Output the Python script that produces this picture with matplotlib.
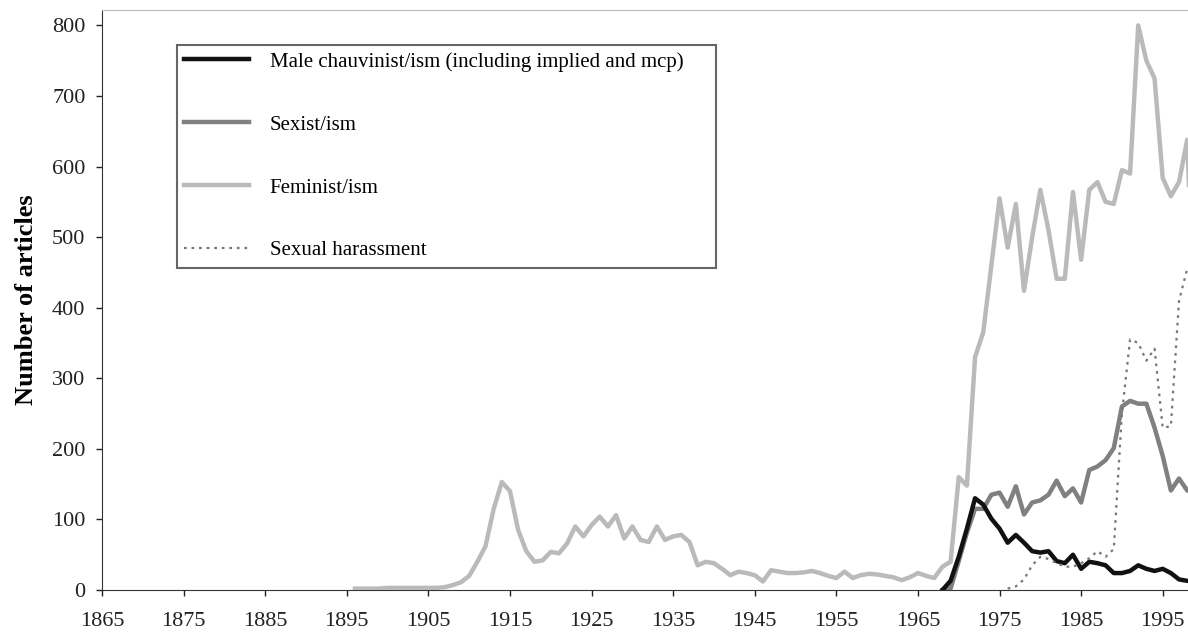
import matplotlib
matplotlib.use("Agg")
import matplotlib.pyplot as plt

plt.rcParams['font.family'] = ['Liberation Serif', 'DejaVu Serif']

# yearly article counts
fem_years = list(range(1896, 2000))
feminist = [2, 2, 2, 2, 3, 3, 3, 3, 3, 3,          # 1896-1905
            3, 4, 7, 11, 20, 40, 62, 115, 153, 140,  # 1906-1915
            85, 55, 40, 42, 54, 52, 66, 90, 76, 92,  # 1916-1925
            104, 90, 106, 73, 90, 71, 68, 90, 71, 76,  # 1926-1935
            78, 68, 35, 40, 38, 30, 21, 26, 24, 21,  # 1936-1945
            12, 28, 26, 24, 24, 25, 27, 24, 20, 17,  # 1946-1955
            26, 17, 21, 23, 22, 20, 18, 14, 18, 24,  # 1956-1965
            20, 17, 33, 40, 160, 148, 330, 365, 460, 555,  # 1966-1975
            485, 547, 424, 500, 567, 510, 441, 441, 564, 468,  # 1976-1985
            567, 578, 550, 547, 595, 590, 800, 750, 725, 584,  # 1986-1995
            558, 578, 638, 350]  # 1996-1999

late_years = list(range(1968, 2000))
sexist = [0, 2, 41, 81, 115, 115, 135, 138, 118, 147,
          107, 124, 127, 135, 155, 133, 144, 124, 170, 175,
          184, 201, 260, 268, 264, 264, 230, 190, 141, 158,
          141, 140]
male = [0, 13, 47, 87, 130, 121, 101, 87, 67, 78,
        67, 55, 53, 55, 41, 38, 50, 30, 40, 38,
        35, 24, 24, 27, 35, 30, 27, 30, 24, 15,
        13, 12]

har_years = list(range(1976, 2000))
harassment = [2, 5, 15, 35, 47, 44, 38, 33, 33, 38,
              45, 55, 47, 58, 250, 355, 350, 325, 342, 230,
              232, 410, 455, 440]

labels = ['Male chauvinist/ism (including implied and mcp)', 'Sexist/ism',
          'Feminist/ism', 'Sexual harassment']
xticks = list(range(1865, 2000, 10))

fig = plt.figure(figsize=(11.88, 6.34), dpi=100)
ax = fig.add_axes([0.0859, 0.0694, 0.9141, 0.9150])

ax.plot(late_years, male, color='#111111', lw=3.2, label=labels[0], zorder=5)
ax.plot(late_years, sexist, color='#808080', lw=3.2, label=labels[1], zorder=4)
ax.plot(fem_years, feminist, color='#bababa', lw=3.2, label=labels[2], zorder=3)
ax.plot(har_years, harassment, color='#777777', lw=1.6, ls=(0, (1.2, 2.2)),
        label=labels[3], zorder=6)

ax.set_xlim(1865, 1998.1)
ax.set_ylim(0, 822)
ax.set_xticks(xticks)
ax.set_yticks(range(0, 801, 100))
ax.tick_params(axis='both', labelsize=16, colors='#222222', width=1)
ax.tick_params(axis='y', length=4, pad=8)
ax.tick_params(axis='x', direction='out', length=4, pad=12)
ax.set_ylabel('Number of articles', fontsize=19, fontweight='bold', labelpad=10)

ax.spines['right'].set_visible(False)
ax.spines['top'].set_color('#bbbbbb')
ax.spines['left'].set_color('#333333')
ax.spines['bottom'].set_color('#333333')

leg = ax.legend(loc='upper left', bbox_to_anchor=(0.069, 0.94, 0.4963, 0.0),
                mode='expand', borderaxespad=0,
                fontsize=15, labelspacing=2.08, handlelength=3.1, handletextpad=1.0,
                fancybox=False, framealpha=1, borderpad=0.35)
leg.get_frame().set_edgecolor('#666666')
leg.get_frame().set_linewidth(1.5)

fig.savefig('out.png', dpi=100)
